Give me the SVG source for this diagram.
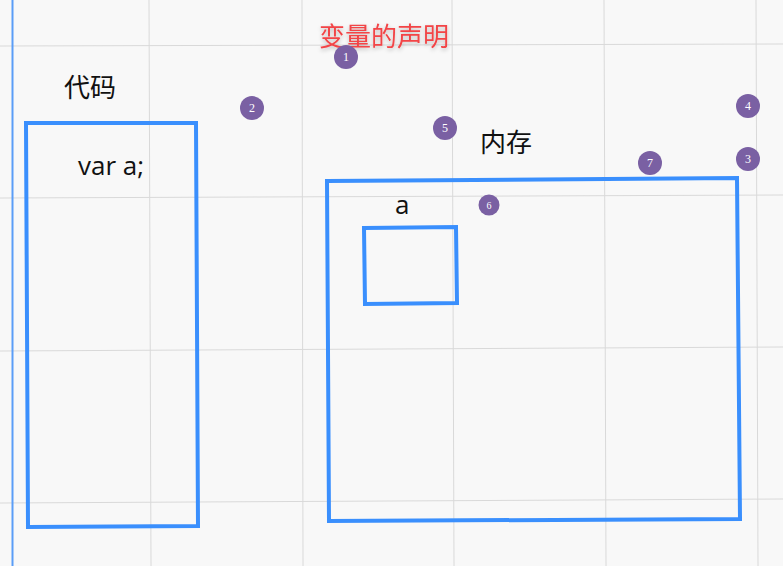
<svg xmlns="http://www.w3.org/2000/svg" width="783" height="566" viewBox="0 0 783 566">
<defs>
<style>
.grid{stroke:#d9d9d9;stroke-width:1;fill:none}
.box{fill:none;stroke:#3a8ffd;stroke-width:4;stroke-linejoin:miter}
.lbl{font-family:"Noto Sans CJK SC","Noto Sans",sans-serif;font-size:26px;fill:#111}
.code{font-family:"Open Sans","Noto Sans",sans-serif;font-size:26px;fill:#111}
.title{font-family:"Noto Sans CJK SC",sans-serif;font-size:26px;fill:#f24446}
.badge circle{fill:#7a60a3}
.badge text{font-family:"Liberation Serif",serif;font-size:12px;fill:#fff;text-anchor:middle}
</style>
<filter id="glow" x="-10%" y="-30%" width="120%" height="160%">
<feGaussianBlur in="SourceAlpha" stdDeviation="2"/>
<feOffset dx="0" dy="2"/>
<feComponentTransfer><feFuncA type="linear" slope="0.25"/></feComponentTransfer>
<feMerge><feMergeNode/><feMergeNode in="SourceGraphic"/></feMerge>
</filter>
</defs>
<rect width="783" height="566" fill="#f8f8f8"/>
<g id="grid">
<line class="grid" x1="149" y1="0" x2="151" y2="566"/>
<line class="grid" x1="302" y1="0" x2="303" y2="566"/>
<line class="grid" x1="452" y1="0" x2="454" y2="566"/>
<line class="grid" x1="604" y1="0" x2="606" y2="566"/>
<line class="grid" x1="756" y1="0" x2="758" y2="566"/>
<line class="grid" x1="0" y1="46" x2="783" y2="44"/>
<line class="grid" x1="0" y1="198" x2="783" y2="195"/>
<line class="grid" x1="0" y1="351" x2="783" y2="347"/>
<line class="grid" x1="0" y1="503" x2="783" y2="499"/>
</g>
<line x1="12.5" y1="0" x2="12.5" y2="566" stroke="#5a9df7" stroke-width="2"/>
<g id="title"><text class="title" x="319" y="46" filter="url(#glow)">变量的声明</text></g>
<g id="code-label"><text class="lbl" x="64" y="97">代码</text></g>
<g id="code-box">
<polygon class="box" points="26,123 196,123 198,526 28,527"/>
<text class="code" x="78" y="175">var a;</text>
</g>
<g id="memory-label"><text class="lbl" x="480" y="152">内存</text></g>
<g id="memory-box"><polygon class="box" points="327,181 737,178 740,519 329,521"/></g>
<g id="var-a">
<text class="code" x="395" y="214">a</text>
<polygon class="box" points="364,228 456,227 457,303 365,304"/>
</g>
<g id="badges">
<g class="badge" id="b1"><circle cx="346" cy="57" r="12"/><text x="346" y="61">1</text></g>
<g class="badge" id="b2"><circle cx="252" cy="108" r="12"/><text x="252" y="112">2</text></g>
<g class="badge" id="b3"><circle cx="748" cy="159" r="12"/><text x="748" y="163">3</text></g>
<g class="badge" id="b4"><circle cx="748" cy="106" r="12"/><text x="748" y="110">4</text></g>
<g class="badge" id="b5"><circle cx="445" cy="128" r="12"/><text x="445" y="132">5</text></g>
<g class="badge" id="b6"><circle cx="489" cy="205" r="10.5"/><text x="489" y="209" style="font-size:10px">6</text></g>
<g class="badge" id="b7"><circle cx="650" cy="163" r="12"/><text x="650" y="167">7</text></g>
</g>
</svg>
